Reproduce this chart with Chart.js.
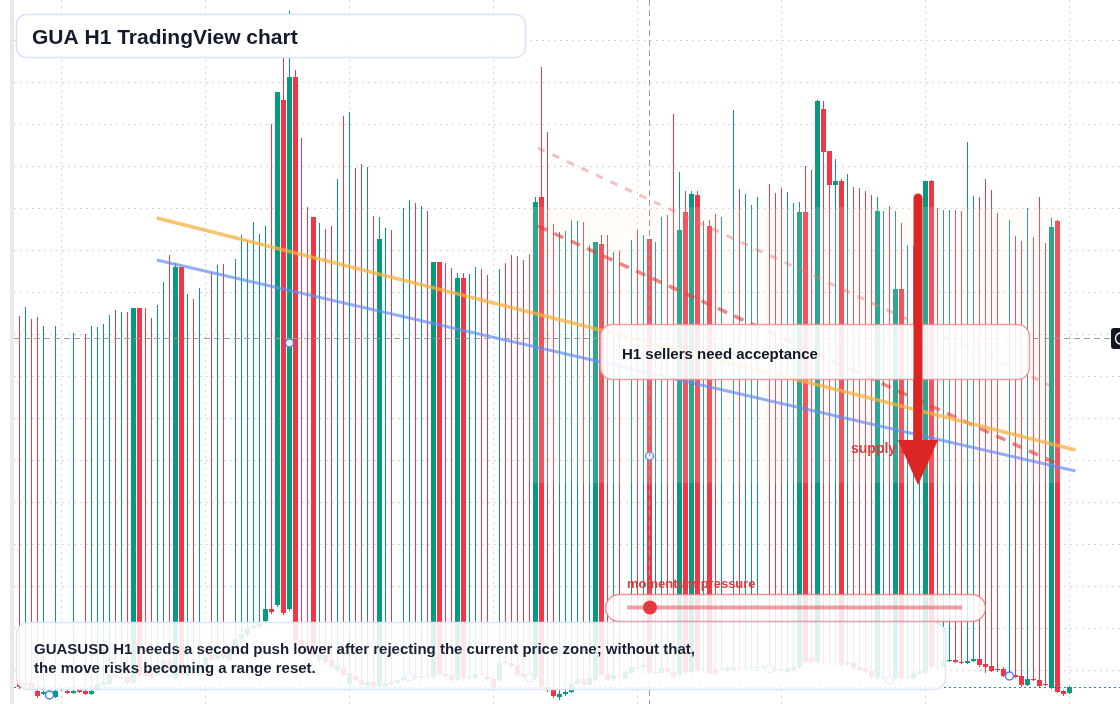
<!DOCTYPE html>
<html>
<head>
<meta charset="utf-8">
<title>GUA H1 TradingView chart</title>
<script src="https://cdn.jsdelivr.net/npm/chart.js@4.4.1/dist/chart.umd.min.js"></script>
<style>
  html, body { margin: 0; padding: 0; background: #ffffff; }
  #chart { display: block; }
</style>
</head>
<body>
<canvas id="chart" width="1120" height="704"></canvas>
<script>
// GUASUSD H1 candles (index = candle number)
const opens = [
  0.221, 0.219, 0.221, 0.213, 0.210, 0.210, 0.207, 0.214, 0.213, 0.211, 0.214, 0.213,
  0.210, 0.215, 0.219, 0.220, 0.229, 0.226, 0.227, 0.221, 0.596, 0.231, 0.231, 0.229,
  0.234, 0.244, 0.226, 0.637, 0.228, 0.232, 0.229, 0.237, 0.249, 0.245, 0.252, 0.244,
  0.256, 0.265, 0.269, 0.276, 0.277, 0.283, 0.295, 0.299, 0.804, 0.295, 0.827, 0.264,
  0.259, 0.687, 0.244, 0.249, 0.244, 0.234, 0.236, 0.220, 0.228, 0.224, 0.218, 0.222,
  0.218, 0.218, 0.222, 0.221, 0.224, 0.226, 0.228, 0.227, 0.228, 0.227, 0.642, 0.230,
  0.229, 0.224, 0.626, 0.226, 0.226, 0.231, 0.227, 0.225, 0.224, 0.243, 0.241, 0.239,
  0.231, 0.228, 0.226, 0.707, 0.217, 0.214, 0.207, 0.210, 0.212, 0.220, 0.225, 0.219,
  0.224, 0.660, 0.230, 0.225, 0.229, 0.226, 0.231, 0.237, 0.237, 0.665, 0.231, 0.231,
  0.236, 0.232, 0.229, 0.692, 0.232, 0.709, 0.234, 0.678, 0.235, 0.235, 0.233, 0.234,
  0.236, 0.236, 0.236, 0.236, 0.237, 0.236, 0.235, 0.235, 0.232, 0.234, 0.237, 0.692,
  0.246, 0.242, 0.795, 0.753, 0.719, 0.723, 0.240, 0.242, 0.237, 0.236, 0.233, 0.226,
  0.226, 0.226, 0.226, 0.615, 0.226, 0.226, 0.231, 0.231, 0.723, 0.237, 0.237, 0.243,
  0.244, 0.242, 0.241, 0.243, 0.245, 0.240, 0.238, 0.235, 0.235, 0.228, 0.229, 0.228,
  0.219, 0.225, 0.224, 0.220, 0.216, 0.683, 0.213, 0.211
];
const highs = [
  0.588, 0.597, 0.585, 0.587, 0.578, 0.214, 0.578, 0.216, 0.214, 0.571, 0.215, 0.570,
  0.578, 0.577, 0.580, 0.589, 0.594, 0.592, 0.592, 0.596, 0.596, 0.596, 0.586, 0.599,
  0.622, 0.649, 0.641, 0.637, 0.610, 0.605, 0.616, 0.249, 0.632, 0.639, 0.640, 0.259,
  0.645, 0.669, 0.664, 0.682, 0.670, 0.678, 0.780, 0.812, 0.846, 0.893, 0.834, 0.766,
  0.697, 0.687, 0.681, 0.675, 0.678, 0.725, 0.788, 0.792, 0.736, 0.740, 0.737, 0.688,
  0.687, 0.676, 0.674, 0.226, 0.696, 0.704, 0.701, 0.698, 0.693, 0.642, 0.642, 0.641,
  0.636, 0.631, 0.631, 0.630, 0.637, 0.635, 0.629, 0.227, 0.635, 0.641, 0.649, 0.648,
  0.644, 0.650, 0.707, 0.837, 0.772, 0.680, 0.672, 0.673, 0.684, 0.683, 0.682, 0.659,
  0.662, 0.669, 0.669, 0.652, 0.653, 0.234, 0.664, 0.674, 0.669, 0.665, 0.662, 0.687,
  0.689, 0.790, 0.732, 0.713, 0.713, 0.713, 0.683, 0.684, 0.690, 0.687, 0.238, 0.794,
  0.715, 0.710, 0.699, 0.707, 0.240, 0.720, 0.711, 0.716, 0.712, 0.701, 0.702, 0.738,
  0.734, 0.804, 0.803, 0.753, 0.745, 0.725, 0.730, 0.717, 0.716, 0.713, 0.709, 0.707,
  0.693, 0.698, 0.693, 0.681, 0.659, 0.658, 0.664, 0.723, 0.724, 0.696, 0.694, 0.694,
  0.694, 0.693, 0.762, 0.708, 0.707, 0.725, 0.714, 0.691, 0.237, 0.684, 0.668, 0.663,
  0.696, 0.667, 0.707, 0.661, 0.686, 0.684, 0.214, 0.218
];
const lows = [
  0.215, 0.217, 0.214, 0.206, 0.209, 0.208, 0.206, 0.213, 0.210, 0.210, 0.211, 0.209,
  0.209, 0.214, 0.218, 0.219, 0.225, 0.225, 0.219, 0.219, 0.227, 0.227, 0.226, 0.228,
  0.233, 0.234, 0.224, 0.227, 0.227, 0.228, 0.228, 0.236, 0.242, 0.243, 0.244, 0.243,
  0.254, 0.263, 0.267, 0.274, 0.275, 0.281, 0.290, 0.297, 0.289, 0.293, 0.259, 0.254,
  0.249, 0.246, 0.242, 0.240, 0.235, 0.232, 0.227, 0.218, 0.222, 0.217, 0.216, 0.216,
  0.216, 0.216, 0.218, 0.220, 0.222, 0.224, 0.224, 0.225, 0.225, 0.225, 0.228, 0.226,
  0.222, 0.222, 0.224, 0.224, 0.224, 0.228, 0.223, 0.216, 0.222, 0.239, 0.236, 0.227,
  0.225, 0.224, 0.224, 0.215, 0.212, 0.206, 0.204, 0.208, 0.211, 0.218, 0.218, 0.218,
  0.222, 0.227, 0.223, 0.223, 0.226, 0.225, 0.230, 0.234, 0.236, 0.229, 0.229, 0.230,
  0.231, 0.225, 0.227, 0.230, 0.230, 0.232, 0.232, 0.229, 0.229, 0.233, 0.232, 0.232,
  0.233, 0.234, 0.234, 0.234, 0.235, 0.232, 0.232, 0.232, 0.231, 0.232, 0.235, 0.240,
  0.240, 0.240, 0.239, 0.238, 0.238, 0.237, 0.238, 0.234, 0.232, 0.230, 0.225, 0.224,
  0.224, 0.222, 0.224, 0.224, 0.224, 0.224, 0.229, 0.229, 0.235, 0.234, 0.236, 0.242,
  0.241, 0.240, 0.240, 0.242, 0.237, 0.231, 0.232, 0.232, 0.227, 0.226, 0.226, 0.217,
  0.218, 0.223, 0.216, 0.218, 0.215, 0.211, 0.208, 0.210
];
const closes = [
  0.217, 0.221, 0.216, 0.208, 0.212, 0.212, 0.213, 0.215, 0.211, 0.213, 0.212, 0.210,
  0.213, 0.220, 0.222, 0.229, 0.227, 0.227, 0.221, 0.596, 0.229, 0.228, 0.227, 0.234,
  0.244, 0.236, 0.637, 0.229, 0.232, 0.229, 0.238, 0.247, 0.244, 0.249, 0.247, 0.257,
  0.265, 0.270, 0.276, 0.278, 0.280, 0.295, 0.292, 0.812, 0.291, 0.827, 0.264, 0.256,
  0.252, 0.249, 0.249, 0.242, 0.237, 0.239, 0.229, 0.231, 0.224, 0.219, 0.222, 0.218,
  0.665, 0.221, 0.220, 0.224, 0.227, 0.228, 0.226, 0.228, 0.227, 0.642, 0.230, 0.228,
  0.224, 0.626, 0.226, 0.227, 0.230, 0.230, 0.225, 0.217, 0.241, 0.241, 0.238, 0.229,
  0.227, 0.226, 0.702, 0.217, 0.214, 0.208, 0.210, 0.212, 0.220, 0.225, 0.219, 0.226,
  0.662, 0.229, 0.224, 0.229, 0.228, 0.232, 0.237, 0.236, 0.239, 0.231, 0.232, 0.236,
  0.232, 0.227, 0.674, 0.232, 0.710, 0.234, 0.235, 0.231, 0.231, 0.236, 0.236, 0.237,
  0.235, 0.237, 0.237, 0.237, 0.238, 0.234, 0.234, 0.234, 0.236, 0.237, 0.692, 0.242,
  0.242, 0.803, 0.752, 0.719, 0.723, 0.239, 0.242, 0.236, 0.234, 0.232, 0.227, 0.693,
  0.227, 0.224, 0.615, 0.226, 0.227, 0.231, 0.233, 0.723, 0.237, 0.236, 0.243, 0.244,
  0.242, 0.241, 0.243, 0.245, 0.239, 0.237, 0.233, 0.234, 0.228, 0.230, 0.227, 0.219,
  0.225, 0.224, 0.218, 0.219, 0.677, 0.212, 0.210, 0.217
];

// drawing anchors (hollow blue circles)
const anchorIdx = [5, 25, 45, 65, 85, 105, 125, 145, 165];
const anchorVals = [0.209, 0.232, 0.561, 0.227, 0.226, 0.448, 0.235, 0.224, 0.228];

// grid: every 24 candles, every 0.042 in price
const gridIdx = [7, 31, 55, 79, 103, 127, 151, 175];
const gridPrices = [0.864, 0.822, 0.780, 0.738, 0.696, 0.654, 0.612, 0.570,
  0.528, 0.486, 0.444, 0.402, 0.360, 0.318, 0.276, 0.234];

// annotations in data units: [candle index, price]
const orangeTrend = [[22.9, 0.686], [176, 0.454]];
const blueTrend = [[22.9, 0.644], [176, 0.433]];
const redDashed = [[86.4, 0.678], [173.4, 0.439]];
const pinkDashed = [[86.4, 0.756], [171.6, 0.519]];
const supplyZone = { from: 84.6, to: 173.8, top: 0.697, bottom: 0.421 };
const crossIdx = 105;
const crossPrice = 0.566;
const lastPrice = 0.217;
const arrowIdx = 149.75;
const arrowPrices = [0.706, 0.464, 0.419]; // top, head base, tip

const GREEN = "#089981";
const RED = "#f23645";
const colors = opens.map((o, i) => (closes[i] >= opens[i] ? GREEN : RED));

const FONT = '"Liberation Sans", Arial, sans-serif';

function panel(ctx, x, y, w, h, r, fill, stroke) {
  ctx.beginPath();
  ctx.roundRect(x, y, w, h, r);
  ctx.fillStyle = fill;
  ctx.fill();
  ctx.lineWidth = 1.5;
  ctx.strokeStyle = stroke;
  ctx.stroke();
}

function segment(ctx, pts, color, width, dash) {
  ctx.save();
  ctx.beginPath();
  ctx.moveTo(pts[0][0], pts[0][1]);
  ctx.lineTo(pts[1][0], pts[1][1]);
  ctx.strokeStyle = color;
  ctx.lineWidth = width;
  ctx.setLineDash(dash || []);
  ctx.stroke();
  ctx.restore();
}

const overlay = {
  id: "overlay",
  beforeDatasetsDraw(chart) {
    const { ctx, scales, chartArea } = chart;
    ctx.save();
    ctx.fillStyle = "#e9e9eb";
    ctx.fillRect(10, 0, 4, chart.height);
    // dotted grid
    gridPrices.forEach((p) => {
      const y = Math.round(scales.y.getPixelForValue(p)) + 0.5;
      segment(ctx, [[chartArea.left, y], [chartArea.right, y]], "#d4d6db", 1, [2, 4]);
    });
    gridIdx.forEach((v) => {
      const x = Math.floor(scales.x.getPixelForValue(v)) + 0.5;
      segment(ctx, [[x, chartArea.top], [x, chartArea.bottom]], "#d4d6db", 1, [2, 4]);
    });
    ctx.restore();
  },
  afterDatasetsDraw(chart) {
    const { ctx, scales, chartArea } = chart;
    const px = (v) => scales.x.getPixelForValue(v);
    const py = (v) => scales.y.getPixelForValue(v);
    const pt = (p) => [px(p[0]), py(p[1])];

    ctx.save();

    // supply zone shade
    ctx.beginPath();
    ctx.roundRect(px(supplyZone.from), py(supplyZone.top),
      px(supplyZone.to) - px(supplyZone.from), py(supplyZone.bottom) - py(supplyZone.top), 6);
    ctx.fillStyle = "rgba(255, 236, 222, 0.16)";
    ctx.fill();

    // trend lines
    segment(ctx, [pt(pinkDashed[0]), pt(pinkDashed[1])], "rgba(236, 112, 112, 0.45)", 3, [7.5, 8.5]);
    segment(ctx, [pt(redDashed[0]), pt(redDashed[1])], "rgba(226, 62, 62, 0.62)", 3.5, [10, 8]);
    segment(ctx, [pt(orangeTrend[0]), pt(orangeTrend[1])], "rgba(247, 176, 64, 0.75)", 3.5);
    segment(ctx, [pt(blueTrend[0]), pt(blueTrend[1])], "rgba(100, 140, 240, 0.7)", 3);

    // crosshair
    const cx = Math.floor(px(crossIdx)) + 0.5;
    const cy = Math.round(py(crossPrice)) + 0.5;
    segment(ctx, [[cx, 0], [cx, chart.height]], "#9a9ca3", 1, [6, 4]);
    segment(ctx, [[chartArea.left, cy], [1110, cy]], "#9a9ca3", 1, [6, 4]);

    // last price line
    const ly = Math.round(py(lastPrice)) + 0.5;
    segment(ctx, [[chartArea.left, ly], [chartArea.right, ly]], GREEN, 1, [2, 3]);

    // crosshair price tag (cut at the edge)
    ctx.beginPath();
    ctx.roundRect(1111, cy - 10.5, 16, 21, 3);
    ctx.fillStyle = "#131722";
    ctx.fill();
    ctx.beginPath();
    ctx.arc(1121, cy, 5.5, 0, Math.PI * 2);
    ctx.strokeStyle = "#ffffff";
    ctx.lineWidth = 1.4;
    ctx.stroke();

    // title
    panel(ctx, 16.5, 14.5, 509, 43, 10, "rgba(255,255,255,0.92)", "#d8e3f6");
    ctx.fillStyle = "#131b2b";
    ctx.font = "bold 21px " + FONT;
    ctx.textBaseline = "alphabetic";
    ctx.fillText("GUA H1 TradingView chart", 32, 43.5);

    // callout
    panel(ctx, 600.5, 324.5, 429, 55, 12, "rgba(255,255,255,0.88)", "rgba(242, 140, 150, 0.85)");
    ctx.fillStyle = "#111827";
    ctx.font = "bold 15px " + FONT;
    ctx.fillText("H1 sellers need acceptance", 622, 358.5);

    // supply label and arrow
    ctx.fillStyle = "#e23a3a";
    ctx.font = "bold 14px " + FONT;
    ctx.fillText("supply zone", 851, 453);

    const ax = px(arrowIdx);
    ctx.beginPath();
    ctx.moveTo(ax, py(arrowPrices[0]));
    ctx.lineTo(ax, py(arrowPrices[1]) + 2);
    ctx.strokeStyle = "#dc2626";
    ctx.lineWidth = 9;
    ctx.lineCap = "round";
    ctx.stroke();
    ctx.lineCap = "butt";
    ctx.beginPath();
    ctx.moveTo(ax - 20, py(arrowPrices[1]));
    ctx.lineTo(ax + 20, py(arrowPrices[1]));
    ctx.lineTo(ax, py(arrowPrices[2]));
    ctx.closePath();
    ctx.fillStyle = "#dc2626";
    ctx.fill();

    // momentum slider
    ctx.fillStyle = "#e0393e";
    ctx.font = "bold 13px " + FONT;
    ctx.fillText("momentum pressure", 627, 588);
    panel(ctx, 605.5, 594.5, 380, 27, 13.5, "rgba(255,255,255,0.85)", "rgba(240, 110, 120, 0.75)");
    segment(ctx, [[627, 607.5], [962, 607.5]], "rgba(228, 80, 90, 0.55)", 4);
    ctx.beginPath();
    ctx.arc(650, 607.5, 7, 0, Math.PI * 2);
    ctx.fillStyle = "#e5393f";
    ctx.fill();

    // bottom note
    panel(ctx, 16.5, 622.5, 929, 67, 12, "rgba(255,255,255,0.87)", "#dae5f7");
    ctx.fillStyle = "#172033";
    ctx.font = "bold 15px " + FONT;
    ctx.fillText("GUASUSD H1 needs a second push lower after rejecting the current price zone; without that,", 34, 654);
    ctx.fillText("the move risks becoming a range reset.", 34, 673);

    ctx.restore();
  },
};

const ctx = document.getElementById("chart").getContext("2d");
const chart = new Chart(ctx, {
  type: "bar",
  data: {
    datasets: [
      {
        type: "scatter",
        label: "Anchors",
        data: anchorIdx.map((v, k) => ({ x: v, y: anchorVals[k] })),
        pointRadius: 4,
        pointBorderWidth: 1.5,
        borderColor: "#4a7ded",
        backgroundColor: "rgba(255,255,255,0.9)",
        order: 0,
      },
      {
        label: "Body",
        data: opens.map((o, i) => ({ x: i, y: [o, closes[i]] })),
        backgroundColor: colors,
        barThickness: 5,
        minBarLength: 1,
        grouped: false,
        inflateAmount: 0,
        order: 1,
      },
      {
        label: "Wick",
        data: lows.map((l, i) => ({ x: i, y: [l, highs[i]] })),
        backgroundColor: colors,
        barThickness: 1,
        grouped: false,
        inflateAmount: 0,
        order: 2,
      },
    ],
  },
  options: {
    responsive: false,
    animation: false,
    devicePixelRatio: 1,
    events: [],
    layout: { autoPadding: false, padding: { left: 14, right: 0, top: 0, bottom: 0 } },
    plugins: {
      legend: { display: false },
      tooltip: { enabled: false },
    },
    scales: {
      x: {
        type: "linear",
        display: false,
        min: -11 / 12,
        max: 2201 / 12,
        offset: false,
      },
      y: {
        type: "linear",
        display: false,
        min: 0.2,
        max: 0.904,
        beginAtZero: false,
      },
    },
  },
  plugins: [overlay],
});
</script>
</body>
</html>
